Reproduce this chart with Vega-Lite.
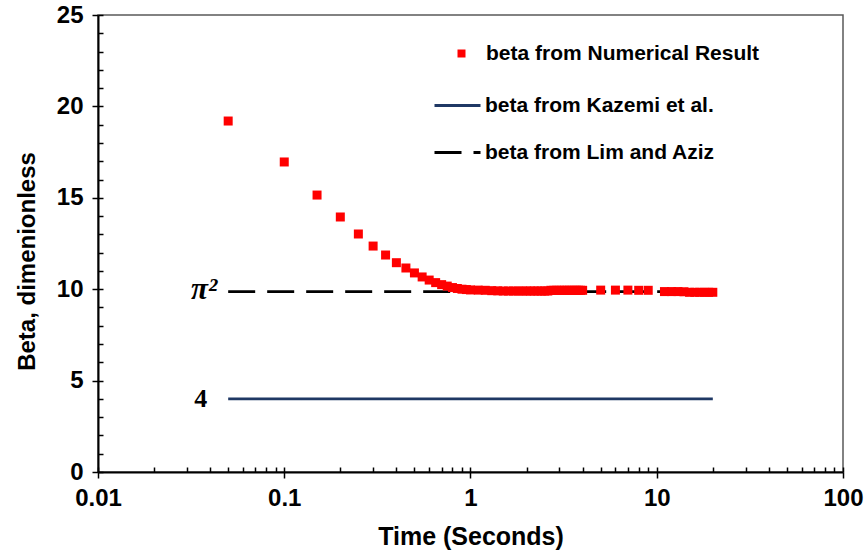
{
  "$schema": "https://vega.github.io/schema/vega-lite/v6.json",
  "width": 745,
  "height": 457,
  "autosize": {"type": "none"},
  "padding": {"left": 98, "top": 15, "right": 24, "bottom": 83},
  "background": "white",
  "config": {
    "view": {"stroke": "#595959", "strokeWidth": 1.5},
    "axis": {
      "grid": false,
      "domainColor": "black",
      "domainWidth": 2,
      "tickColor": "black",
      "tickWidth": 1.5,
      "labelFont": "Liberation Sans",
      "labelFontWeight": "bold",
      "labelFontSize": 24,
      "labelColor": "black",
      "titleFont": "Liberation Sans",
      "titleFontWeight": "bold",
      "titleColor": "black",
      "labelFlush": false,
      "labelOverlap": false
    },
    "legend": {
      "labelFont": "Liberation Sans",
      "labelFontWeight": "bold",
      "labelFontSize": 21,
      "labelColor": "black",
      "labelLimit": 400,
      "padding": 0
    }
  },
  "datasets": {
    "numerical": [
      {"series": "beta from Numerical Result", "time": 0.05, "beta": 19.2}, {"series": "beta from Numerical Result", "time": 0.1, "beta": 16.96}, {"series": "beta from Numerical Result", "time": 0.15, "beta": 15.15},
      {"series": "beta from Numerical Result", "time": 0.2, "beta": 13.95}, {"series": "beta from Numerical Result", "time": 0.25, "beta": 13.02}, {"series": "beta from Numerical Result", "time": 0.3, "beta": 12.36},
      {"series": "beta from Numerical Result", "time": 0.35, "beta": 11.87}, {"series": "beta from Numerical Result", "time": 0.4, "beta": 11.45}, {"series": "beta from Numerical Result", "time": 0.45, "beta": 11.16},
      {"series": "beta from Numerical Result", "time": 0.5, "beta": 10.89}, {"series": "beta from Numerical Result", "time": 0.55, "beta": 10.67}, {"series": "beta from Numerical Result", "time": 0.6, "beta": 10.5},
      {"series": "beta from Numerical Result", "time": 0.65, "beta": 10.36}, {"series": "beta from Numerical Result", "time": 0.7, "beta": 10.25}, {"series": "beta from Numerical Result", "time": 0.75, "beta": 10.17},
      {"series": "beta from Numerical Result", "time": 0.8, "beta": 10.09}, {"series": "beta from Numerical Result", "time": 0.85, "beta": 10.04}, {"series": "beta from Numerical Result", "time": 0.9, "beta": 10.0},
      {"series": "beta from Numerical Result", "time": 0.95, "beta": 9.98}, {"series": "beta from Numerical Result", "time": 1.0, "beta": 9.96}, {"series": "beta from Numerical Result", "time": 1.1, "beta": 9.95},
      {"series": "beta from Numerical Result", "time": 1.2, "beta": 9.94}, {"series": "beta from Numerical Result", "time": 1.3, "beta": 9.92}, {"series": "beta from Numerical Result", "time": 1.4, "beta": 9.91},
      {"series": "beta from Numerical Result", "time": 1.5, "beta": 9.9}, {"series": "beta from Numerical Result", "time": 1.6, "beta": 9.9}, {"series": "beta from Numerical Result", "time": 1.7, "beta": 9.9},
      {"series": "beta from Numerical Result", "time": 1.8, "beta": 9.9}, {"series": "beta from Numerical Result", "time": 1.9, "beta": 9.9}, {"series": "beta from Numerical Result", "time": 2.0, "beta": 9.9},
      {"series": "beta from Numerical Result", "time": 2.1, "beta": 9.9}, {"series": "beta from Numerical Result", "time": 2.2, "beta": 9.9}, {"series": "beta from Numerical Result", "time": 2.3, "beta": 9.9},
      {"series": "beta from Numerical Result", "time": 2.4, "beta": 9.9}, {"series": "beta from Numerical Result", "time": 2.5, "beta": 9.9}, {"series": "beta from Numerical Result", "time": 2.6, "beta": 9.9},
      {"series": "beta from Numerical Result", "time": 2.7, "beta": 9.94}, {"series": "beta from Numerical Result", "time": 2.8, "beta": 9.94}, {"series": "beta from Numerical Result", "time": 2.9, "beta": 9.94},
      {"series": "beta from Numerical Result", "time": 3.0, "beta": 9.94}, {"series": "beta from Numerical Result", "time": 3.1, "beta": 9.94}, {"series": "beta from Numerical Result", "time": 3.2, "beta": 9.94},
      {"series": "beta from Numerical Result", "time": 3.3, "beta": 9.94}, {"series": "beta from Numerical Result", "time": 3.4, "beta": 9.94}, {"series": "beta from Numerical Result", "time": 3.5, "beta": 9.94},
      {"series": "beta from Numerical Result", "time": 3.6, "beta": 9.94}, {"series": "beta from Numerical Result", "time": 3.7, "beta": 9.94}, {"series": "beta from Numerical Result", "time": 3.8, "beta": 9.94},
      {"series": "beta from Numerical Result", "time": 3.9, "beta": 9.94}, {"series": "beta from Numerical Result", "time": 4.0, "beta": 9.94}, {"series": "beta from Numerical Result", "time": 5, "beta": 9.95},
      {"series": "beta from Numerical Result", "time": 6, "beta": 9.95}, {"series": "beta from Numerical Result", "time": 7, "beta": 9.95}, {"series": "beta from Numerical Result", "time": 8, "beta": 9.94},
      {"series": "beta from Numerical Result", "time": 9, "beta": 9.94}, {"series": "beta from Numerical Result", "time": 11, "beta": 9.87}, {"series": "beta from Numerical Result", "time": 12, "beta": 9.87},
      {"series": "beta from Numerical Result", "time": 13, "beta": 9.87}, {"series": "beta from Numerical Result", "time": 14, "beta": 9.86}, {"series": "beta from Numerical Result", "time": 15, "beta": 9.83},
      {"series": "beta from Numerical Result", "time": 16, "beta": 9.83}, {"series": "beta from Numerical Result", "time": 17, "beta": 9.83}, {"series": "beta from Numerical Result", "time": 18, "beta": 9.83},
      {"series": "beta from Numerical Result", "time": 19, "beta": 9.83}, {"series": "beta from Numerical Result", "time": 20, "beta": 9.83}
    ],
    "lines": [
      {"series": "beta from Kazemi et al.", "time": 0.05, "beta": 4}, {"series": "beta from Kazemi et al.", "time": 20, "beta": 4},
      {"series": "beta from Lim and Aziz", "time": 0.05, "beta": 9.87}, {"series": "beta from Lim and Aziz", "time": 20, "beta": 9.87}
    ],
    "pilabel": [{"time": 0.05, "beta": 9.87, "label": "π²"}],
    "fourlabel": [{"time": 0.05, "beta": 4, "label": "4"}]
  },
  "resolve": {"axis": {"x": "independent", "y": "independent"}},
  "layer": [
    {
      "data": {"name": "lines"},
      "mark": {"type": "line", "strokeWidth": 2.8},
      "encoding": {
        "x": {
          "field": "time", "type": "quantitative",
          "scale": {"type": "log", "domain": [0.01, 100], "nice": false},
          "axis": {
            "orient": "bottom", "values": [0.01, 0.1, 1, 10, 100], "format": "~g",
            "title": "Time (Seconds)", "titleFontSize": 25, "tickSize": 6, "labelPadding": 8, "titlePadding": 14
          }
        },
        "y": {
          "field": "beta", "type": "quantitative",
          "scale": {"domain": [0, 25], "nice": false, "zero": true},
          "axis": {
            "orient": "left", "values": [0, 5, 10, 15, 20, 25],
            "title": "Beta, dimenionless", "titleFontSize": 24, "tickSize": 6, "labelPadding": 9,
            "titleX": -71, "titleY": 246, "titleBaseline": "middle"
          }
        },
        "color": {
          "field": "series", "type": "nominal",
          "scale": {"domain": ["beta from Kazemi et al.", "beta from Lim and Aziz"], "range": ["#1F3864", "#000000"]},
          "legend": {"orient": "none", "legendX": 335, "legendY": 66, "title": null, "symbolSize": 2116, "symbolStrokeWidth": 3, "labelOffset": 3, "rowPadding": 12}
        },
        "strokeDash": {
          "field": "series", "type": "nominal",
          "scale": {"domain": ["beta from Kazemi et al.", "beta from Lim and Aziz"], "range": [[1, 0], [27, 12]]},
          "legend": {"orient": "none", "legendX": 335, "legendY": 66, "title": null, "symbolSize": 2116, "symbolStrokeWidth": 3, "labelOffset": 3, "rowPadding": 12}
        }
      }
    },
    {
      "data": {"name": "numerical"},
      "mark": {"type": "point", "shape": "square", "filled": true, "size": 81, "opacity": 1, "strokeWidth": 0, "color": "#FF0000"},
      "encoding": {
        "x": {"field": "time", "type": "quantitative", "axis": null},
        "y": {"field": "beta", "type": "quantitative", "axis": null},
        "shape": {
          "field": "series", "type": "nominal",
          "scale": {"domain": ["beta from Numerical Result"], "range": ["square"]},
          "legend": {"orient": "none", "legendX": 353, "legendY": 28, "title": null, "symbolSize": 64, "symbolFillColor": "#FF0000", "symbolStrokeWidth": 0, "labelOffset": 14}
        }
      }
    },
    {
      "data": {"name": "pilabel"},
      "mark": {"type": "text", "align": "right", "baseline": "middle", "dx": -11, "dy": -2, "font": "Liberation Serif", "fontWeight": "bold", "fontStyle": "italic", "fontSize": 31, "color": "black"},
      "encoding": {
        "x": {"field": "time", "type": "quantitative", "axis": null},
        "y": {"field": "beta", "type": "quantitative", "axis": null},
        "text": {"field": "label"}
      }
    },
    {
      "data": {"name": "fourlabel"},
      "mark": {"type": "text", "align": "right", "baseline": "middle", "dx": -21, "dy": 0, "font": "Liberation Serif", "fontWeight": "bold", "fontSize": 26, "color": "black"},
      "encoding": {
        "x": {"field": "time", "type": "quantitative", "axis": null},
        "y": {"field": "beta", "type": "quantitative", "axis": null},
        "text": {"field": "label"}
      }
    },
    {
      "data": {"name": "lines"},
      "mark": {"type": "point", "opacity": 0},
      "encoding": {
        "x": {
          "field": "time", "type": "quantitative",
          "axis": {
            "orient": "bottom",
            "values": [0.01, 0.02, 0.03, 0.04, 0.05, 0.06, 0.07, 0.08, 0.09, 0.1, 0.2, 0.3, 0.4, 0.5, 0.6, 0.7, 0.8, 0.9, 1, 2, 3, 4, 5, 6, 7, 8, 9, 10, 20, 30, 40, 50, 60, 70, 80, 90, 100],
            "tickSize": -5, "labels": false, "domain": false, "title": null
          }
        },
        "y": {
          "field": "beta", "type": "quantitative",
          "axis": {
            "orient": "left",
            "values": [0, 1, 2, 3, 4, 5, 6, 7, 8, 9, 10, 11, 12, 13, 14, 15, 16, 17, 18, 19, 20, 21, 22, 23, 24, 25],
            "tickSize": -5, "labels": false, "domain": false, "title": null
          }
        }
      }
    }
  ]
}
